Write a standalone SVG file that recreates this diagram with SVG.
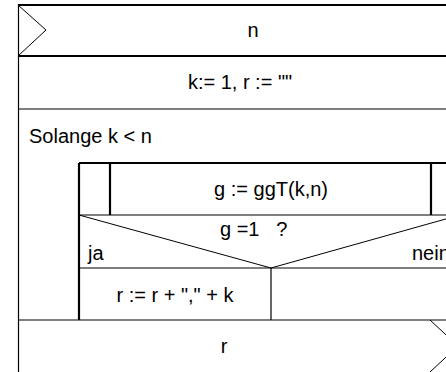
<svg xmlns="http://www.w3.org/2000/svg" width="446" height="372" viewBox="0 0 446 372">
<style>
.t{font-family:"Liberation Sans",Arial,sans-serif;font-size:20px;fill:#000}
.m{text-anchor:middle}
.thin{stroke:#000;stroke-width:1.2;fill:none}
.thick{stroke:#000;stroke-width:2.2;fill:none}
.diag{stroke:#000;stroke-width:1;fill:none}
</style>
<rect width="446" height="372" fill="#fff"/>
<g id="input-n">
<line class="thick" x1="18" y1="5" x2="462" y2="5"/>
<polyline class="diag" points="18,5 46,30 18,56"/>
<text class="t m" x="253" y="37">n</text>
</g>
<g id="init">
<line class="thick" x1="18" y1="56" x2="462" y2="56"/>
<text class="t m" x="240" y="89">k:= 1, r := ""</text>
</g>
<g id="loop">
<line class="thin" x1="18" y1="109" x2="462" y2="109"/>
<text class="t" x="29" y="143">Solange k &lt; n</text>
<line class="thick" x1="79" y1="163" x2="462" y2="163"/>
<line class="thick" x1="79" y1="163" x2="79" y2="320"/>
</g>
<g id="call-ggT">
<line class="thick" x1="110" y1="163" x2="110" y2="215"/>
<line class="thick" x1="431" y1="163" x2="431" y2="215"/>
<text class="t m" x="271" y="196">g := ggT(k,n)</text>
</g>
<g id="decision">
<line class="thin" x1="79" y1="215" x2="462" y2="215"/>
<polyline class="diag" points="79,215 271,268 460,215"/>
<text class="t" x="220" y="236" xml:space="preserve">g =1   ?</text>
<text class="t" x="88" y="260">ja</text>
<text class="t" x="412" y="260">nein</text>
<line class="thin" x1="79" y1="268" x2="462" y2="268"/>
</g>
<g id="branch-ja">
<line class="thin" x1="271" y1="268" x2="271" y2="320"/>
<text class="t m" x="175" y="302">r := r + "," + k</text>
</g>
<g id="output-r">
<line class="thin" x1="18" y1="320" x2="462" y2="320"/>
<polyline class="diag" points="430,320 458,346 430,372"/>
<text class="t m" x="224" y="353">r</text>
</g>
<g id="frame">
<line class="thin" x1="18.5" y1="4" x2="18.5" y2="372"/>
</g>
</svg>
